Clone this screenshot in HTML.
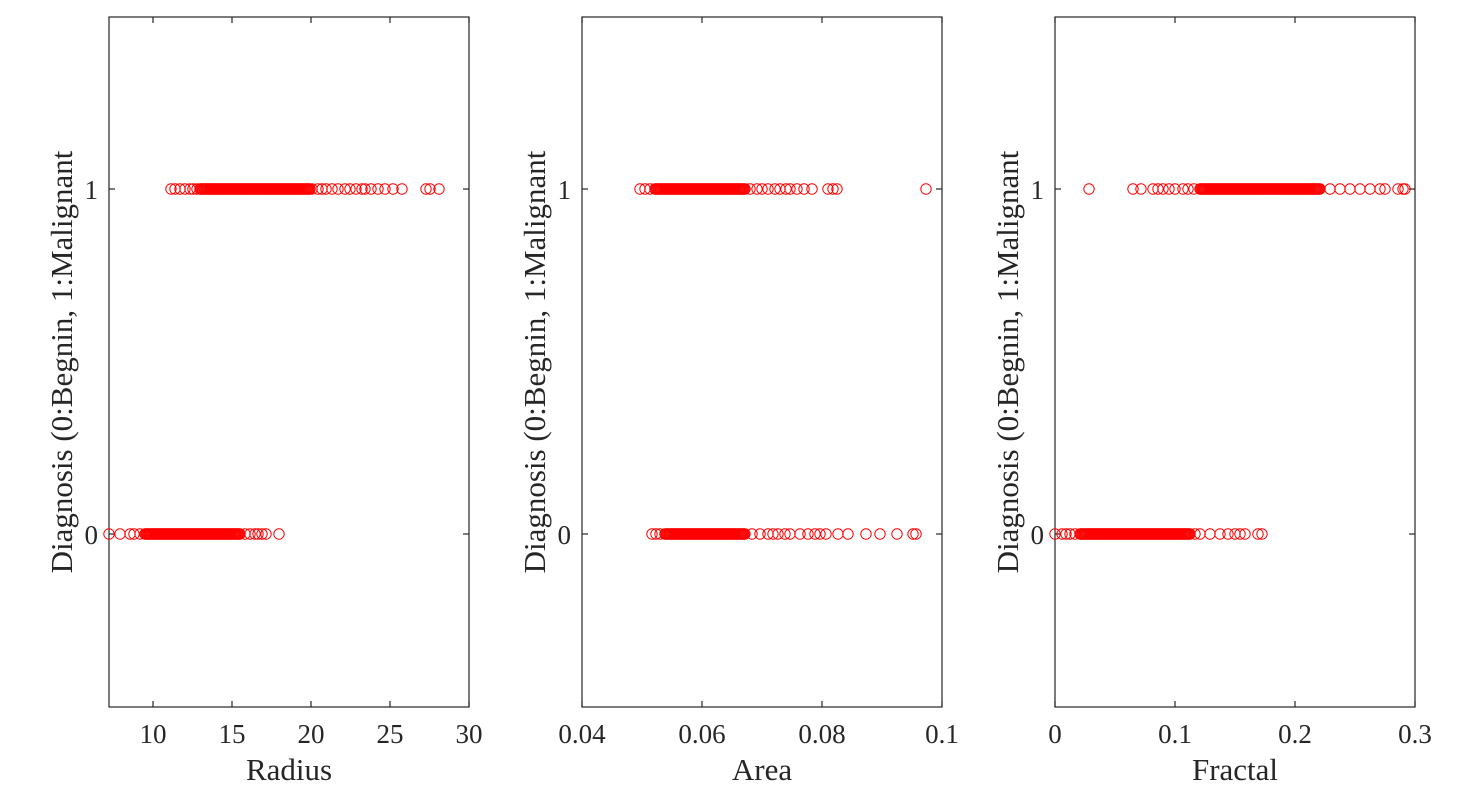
<!DOCTYPE html><html><head><style>body{margin:0;background:#fff}svg{display:block}text{font-family:"Liberation Serif",serif;fill:#262626}</style></head><body>
<svg id="s" width="1472" height="794" xmlns="http://www.w3.org/2000/svg"></svg>
<script>
const s=document.getElementById('s');let h='';
const panels=[
{L:109,xt:[[153,'10'],[232,'15'],[311,'20'],[390,'25'],[469,'30']],xl:'Radius',
r1:[171,175,180,185,190,193,197,[200,310],312,318,322,326,332,338,345,350,356,362,365,371,378,385,393,402,426,430,439],
r0:[109,120,130,134,140,[145,240],245,250,255,258,262,266,279]},
{L:582,xt:[[582,'0.04'],[702,'0.06'],[822,'0.08'],[942,'0.1']],xl:'Area',
r1:[640,645,650,[655,745],750,757,762,768,775,780,786,790,797,804,812,828,833,837,926],
r0:[652,656,660,[665,745],752,760,768,773,778,785,790,800,808,815,820,826,838,848,866,880,897,913,916]},
{L:1055,xt:[[1055,'0'],[1175,'0.1'],[1295,'0.2'],[1415,'0.3']],xl:'Fractal',
r1:[1089,1133,1141,1153,1158,1163,1169,1175,1183,1188,1194,[1200,1320],1330,1340,1350,1360,1370,1380,1385,1398,1403,1405],
r0:[1055,1062,1066,1070,1075,[1080,1190],1195,1200,1210,1220,1228,1235,1240,1245,1258,1262]}];
function pts(a,y){let o='';for(const p of a){if(Array.isArray(p)){for(let x=p[0];x<=p[1];x+=1)o+=`<circle cx="${x}" cy="${y}" r="5.2"/>`}else o+=`<circle cx="${p}" cy="${y}" r="5.2"/>`}return o}
for(const p of panels){const L=p.L,R=L+360;
h+=`<rect x="${L}" y="17" width="360" height="690" fill="none" stroke="#262626" stroke-width="1.2"/>`;
for(const y of [189,534])h+=`<line x1="${L}" y1="${y}" x2="${L+6}" y2="${y}" stroke="#262626" stroke-width="1.2"/><line x1="${R-6}" y1="${y}" x2="${R}" y2="${y}" stroke="#262626" stroke-width="1.2"/>`;
h+=`<text x="${L-11}" y="199" font-size="27" text-anchor="end">1</text><text x="${L-11}" y="544" font-size="27" text-anchor="end">0</text>`;
for(const [x,t] of p.xt){h+=`<line x1="${x}" y1="707" x2="${x}" y2="701" stroke="#262626" stroke-width="1.2"/><line x1="${x}" y1="17" x2="${x}" y2="23" stroke="#262626" stroke-width="1.2"/><text x="${x}" y="743" font-size="27" text-anchor="middle">${t}</text>`}
h+=`<text x="${L+180}" y="780" font-size="31" text-anchor="middle">${p.xl}</text>`;
h+=`<text transform="translate(${L-37},362) rotate(-90)" font-size="31" text-anchor="middle">Diagnosis (0:Begnin, 1:Malignant</text>`;
h+=`<g fill="none" stroke="#ff0000" stroke-width="1">${pts(p.r1,189)}${pts(p.r0,534)}</g>`;}
s.innerHTML=h;
</script></body></html>
